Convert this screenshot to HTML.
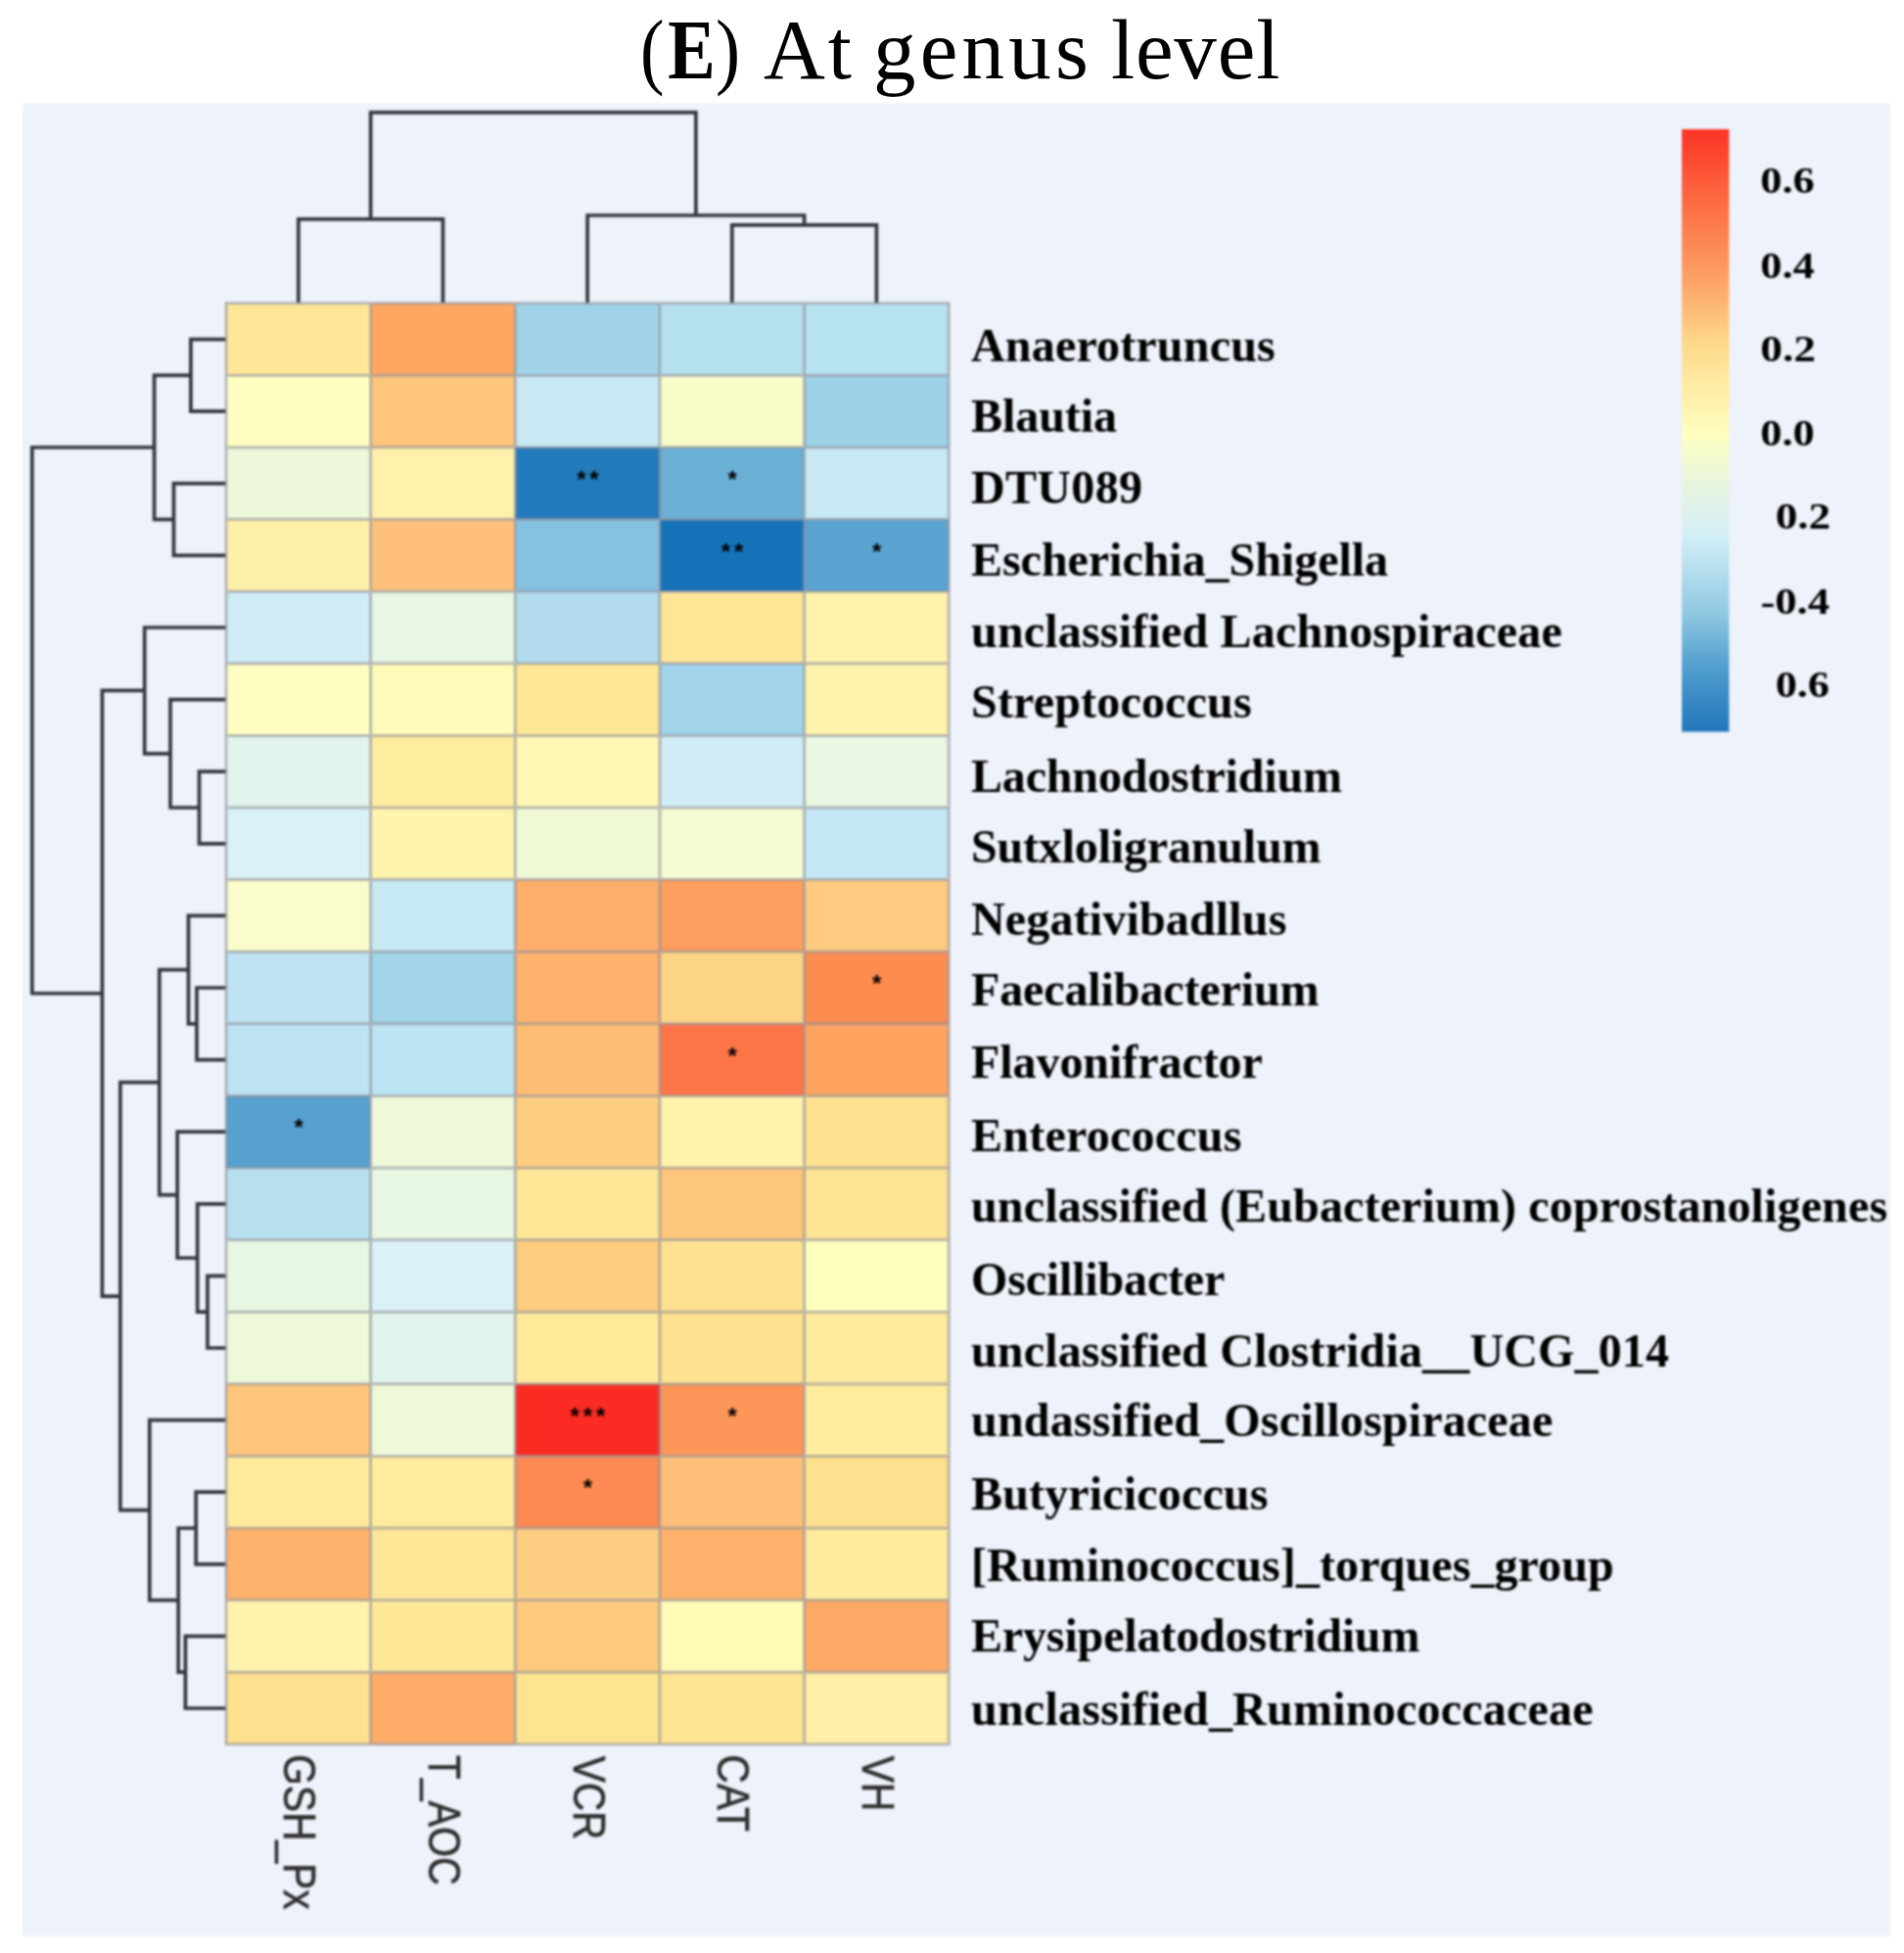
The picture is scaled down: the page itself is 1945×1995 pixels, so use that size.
<!DOCTYPE html>
<html lang="en"><head><meta charset="utf-8"><title>(E) At genus level</title>
<style>html,body{margin:0;padding:0;background:#fff}svg{display:block}.bl{filter:blur(.8px)}.rl{font-family:"Liberation Serif",serif;font-weight:700;font-size:48px;fill:#000}.cl{font-family:"Liberation Sans",sans-serif;font-size:47px;fill:#303030;stroke:#303030;stroke-width:.7px}.lg{font-family:"Liberation Serif",serif;font-weight:700;font-size:37px;fill:#000}.st{font-family:"Liberation Sans",sans-serif;font-weight:700;font-size:24px;fill:#000;text-anchor:middle}.tt{font-family:"Liberation Serif",serif;font-size:87px;fill:#000}</style></head><body>
<svg width="1945" height="1995" viewBox="0 0 1945 1995">
<defs><linearGradient id="cb" x1="0" y1="0" x2="0" y2="1"><stop offset="0" stop-color="#fb3426"/><stop offset="0.12" stop-color="#fe6a42"/><stop offset="0.25" stop-color="#fda265"/><stop offset="0.355" stop-color="#fed98a"/><stop offset="0.505" stop-color="#ffffbf"/><stop offset="0.58" stop-color="#eaf6dc"/><stop offset="0.67" stop-color="#d5eff6"/><stop offset="0.80" stop-color="#92cae3"/><stop offset="0.90" stop-color="#4d9bcd"/><stop offset="1" stop-color="#2277bb"/></linearGradient></defs>
<g class="bl">
<rect x="23" y="105.5" width="1908" height="1872.2" fill="#eef2fa"/>
<path d="M304.825 309.8 V223.9 H452.475 V309.8 M747.775 309.8 V229.8 H895.425 V309.8 M600.125 309.8 V220 H821.6 V229.8 M378.65 223.9 V114.8 H710.862 V220 M231 346.6 H194.9 V420.2 H231 M231 493.8 H177.5 V567.4 H231 M194.9 383.4 H157.6 V530.6 H177.5 M231 788.2 H203.5 V861.8 H231 M231 714.6 H174 V825 H203.5 M231 641 H147.7 V769.8 H174 M231 1009 H201 V1082.6 H231 M231 935.4 H192.5 V1045.8 H201 M231 1303.4 H212 V1377 H231 M231 1229.8 H201.7 V1340.2 H212 M231 1156.2 H181.2 V1285 H201.7 M192.5 990.6 H162.8 V1220.6 H181.2 M231 1524.2 H200.2 V1597.8 H231 M231 1671.4 H189.4 V1745 H231 M200.2 1561 H182.2 V1708.2 H189.4 M231 1450.6 H152.8 V1634.6 H182.2 M162.8 1105.6 H122.9 V1542.6 H152.8 M147.7 705.4 H104.4 V1324.1 H122.9 M157.6 457 H32.8 V1014.75 H104.4" fill="none" stroke="#33363b" stroke-width="3.7" stroke-linejoin="miter"/>
<rect x="231.0" y="309.8" width="147.7" height="73.6" fill="#ffe799"/>
<rect x="378.6" y="309.8" width="147.7" height="73.6" fill="#fea762"/>
<rect x="526.3" y="309.8" width="147.7" height="73.6" fill="#a1d3e8"/>
<rect x="674.0" y="309.8" width="147.7" height="73.6" fill="#b5e0ee"/>
<rect x="821.6" y="309.8" width="147.7" height="73.6" fill="#b7e2f0"/>
<rect x="231.0" y="383.4" width="147.7" height="73.6" fill="#ffffc3"/>
<rect x="378.6" y="383.4" width="147.7" height="73.6" fill="#fec57b"/>
<rect x="526.3" y="383.4" width="147.7" height="73.6" fill="#c9e9f4"/>
<rect x="674.0" y="383.4" width="147.7" height="73.6" fill="#f9fcc8"/>
<rect x="821.6" y="383.4" width="147.7" height="73.6" fill="#9cd1e8"/>
<rect x="231.0" y="457.0" width="147.7" height="73.6" fill="#ecf8d9"/>
<rect x="378.6" y="457.0" width="147.7" height="73.6" fill="#fff1ab"/>
<rect x="526.3" y="457.0" width="147.7" height="73.6" fill="#237aba"/>
<rect x="674.0" y="457.0" width="147.7" height="73.6" fill="#6ab0d5"/>
<rect x="821.6" y="457.0" width="147.7" height="73.6" fill="#c9e9f4"/>
<rect x="231.0" y="530.6" width="147.7" height="73.6" fill="#fff0a9"/>
<rect x="378.6" y="530.6" width="147.7" height="73.6" fill="#fec07a"/>
<rect x="526.3" y="530.6" width="147.7" height="73.6" fill="#84c2e0"/>
<rect x="674.0" y="530.6" width="147.7" height="73.6" fill="#1572b8"/>
<rect x="821.6" y="530.6" width="147.7" height="73.6" fill="#5ba3d0"/>
<rect x="231.0" y="604.2" width="147.7" height="73.6" fill="#d0ecf7"/>
<rect x="378.6" y="604.2" width="147.7" height="73.6" fill="#e8f6e3"/>
<rect x="526.3" y="604.2" width="147.7" height="73.6" fill="#b2dcee"/>
<rect x="674.0" y="604.2" width="147.7" height="73.6" fill="#fee696"/>
<rect x="821.6" y="604.2" width="147.7" height="73.6" fill="#fff3ae"/>
<rect x="231.0" y="677.8" width="147.7" height="73.6" fill="#ffffc3"/>
<rect x="378.6" y="677.8" width="147.7" height="73.6" fill="#fefbb9"/>
<rect x="526.3" y="677.8" width="147.7" height="73.6" fill="#fee897"/>
<rect x="674.0" y="677.8" width="147.7" height="73.6" fill="#a1d4ea"/>
<rect x="821.6" y="677.8" width="147.7" height="73.6" fill="#fff3ad"/>
<rect x="231.0" y="751.4" width="147.7" height="73.6" fill="#e2f5ec"/>
<rect x="378.6" y="751.4" width="147.7" height="73.6" fill="#ffed9f"/>
<rect x="526.3" y="751.4" width="147.7" height="73.6" fill="#fff7b3"/>
<rect x="674.0" y="751.4" width="147.7" height="73.6" fill="#d2edf7"/>
<rect x="821.6" y="751.4" width="147.7" height="73.6" fill="#e9f7e3"/>
<rect x="231.0" y="825.0" width="147.7" height="73.6" fill="#daf2f7"/>
<rect x="378.6" y="825.0" width="147.7" height="73.6" fill="#fff4ae"/>
<rect x="526.3" y="825.0" width="147.7" height="73.6" fill="#f0f9d6"/>
<rect x="674.0" y="825.0" width="147.7" height="73.6" fill="#f4fbd2"/>
<rect x="821.6" y="825.0" width="147.7" height="73.6" fill="#c5e8f4"/>
<rect x="231.0" y="898.6" width="147.7" height="73.6" fill="#fafdcb"/>
<rect x="378.6" y="898.6" width="147.7" height="73.6" fill="#c7e9f3"/>
<rect x="526.3" y="898.6" width="147.7" height="73.6" fill="#feae6a"/>
<rect x="674.0" y="898.6" width="147.7" height="73.6" fill="#fd9e5f"/>
<rect x="821.6" y="898.6" width="147.7" height="73.6" fill="#fecb80"/>
<rect x="231.0" y="972.2" width="147.7" height="73.6" fill="#bfe3f2"/>
<rect x="378.6" y="972.2" width="147.7" height="73.6" fill="#a1d4e8"/>
<rect x="526.3" y="972.2" width="147.7" height="73.6" fill="#feb26c"/>
<rect x="674.0" y="972.2" width="147.7" height="73.6" fill="#fed585"/>
<rect x="821.6" y="972.2" width="147.7" height="73.6" fill="#fd8c50"/>
<rect x="231.0" y="1045.8" width="147.7" height="73.6" fill="#bee3f2"/>
<rect x="378.6" y="1045.8" width="147.7" height="73.6" fill="#bce3f1"/>
<rect x="526.3" y="1045.8" width="147.7" height="73.6" fill="#febc74"/>
<rect x="674.0" y="1045.8" width="147.7" height="73.6" fill="#fd7547"/>
<rect x="821.6" y="1045.8" width="147.7" height="73.6" fill="#fea360"/>
<rect x="231.0" y="1119.4" width="147.7" height="73.6" fill="#57a1cf"/>
<rect x="378.6" y="1119.4" width="147.7" height="73.6" fill="#eef9da"/>
<rect x="526.3" y="1119.4" width="147.7" height="73.6" fill="#fece80"/>
<rect x="674.0" y="1119.4" width="147.7" height="73.6" fill="#fff2ab"/>
<rect x="821.6" y="1119.4" width="147.7" height="73.6" fill="#fee08e"/>
<rect x="231.0" y="1193.0" width="147.7" height="73.6" fill="#b7e0ef"/>
<rect x="378.6" y="1193.0" width="147.7" height="73.6" fill="#e8f7e3"/>
<rect x="526.3" y="1193.0" width="147.7" height="73.6" fill="#fee796"/>
<rect x="674.0" y="1193.0" width="147.7" height="73.6" fill="#fec67b"/>
<rect x="821.6" y="1193.0" width="147.7" height="73.6" fill="#fee494"/>
<rect x="231.0" y="1266.6" width="147.7" height="73.6" fill="#e8f7e3"/>
<rect x="378.6" y="1266.6" width="147.7" height="73.6" fill="#daf2f7"/>
<rect x="526.3" y="1266.6" width="147.7" height="73.6" fill="#fecd7f"/>
<rect x="674.0" y="1266.6" width="147.7" height="73.6" fill="#fee290"/>
<rect x="821.6" y="1266.6" width="147.7" height="73.6" fill="#ffffbd"/>
<rect x="231.0" y="1340.2" width="147.7" height="73.6" fill="#eef9da"/>
<rect x="378.6" y="1340.2" width="147.7" height="73.6" fill="#e2f5ec"/>
<rect x="526.3" y="1340.2" width="147.7" height="73.6" fill="#ffea9a"/>
<rect x="674.0" y="1340.2" width="147.7" height="73.6" fill="#fee28f"/>
<rect x="821.6" y="1340.2" width="147.7" height="73.6" fill="#ffeb9d"/>
<rect x="231.0" y="1413.8" width="147.7" height="73.6" fill="#fec57b"/>
<rect x="378.6" y="1413.8" width="147.7" height="73.6" fill="#eef9da"/>
<rect x="526.3" y="1413.8" width="147.7" height="73.6" fill="#f92b22"/>
<rect x="674.0" y="1413.8" width="147.7" height="73.6" fill="#fd9659"/>
<rect x="821.6" y="1413.8" width="147.7" height="73.6" fill="#ffec9d"/>
<rect x="231.0" y="1487.4" width="147.7" height="73.6" fill="#ffea9b"/>
<rect x="378.6" y="1487.4" width="147.7" height="73.6" fill="#ffec9d"/>
<rect x="526.3" y="1487.4" width="147.7" height="73.6" fill="#fd8a52"/>
<rect x="674.0" y="1487.4" width="147.7" height="73.6" fill="#fec078"/>
<rect x="821.6" y="1487.4" width="147.7" height="73.6" fill="#fee08e"/>
<rect x="231.0" y="1561.0" width="147.7" height="73.6" fill="#feb36c"/>
<rect x="378.6" y="1561.0" width="147.7" height="73.6" fill="#ffe797"/>
<rect x="526.3" y="1561.0" width="147.7" height="73.6" fill="#fecf82"/>
<rect x="674.0" y="1561.0" width="147.7" height="73.6" fill="#feb16b"/>
<rect x="821.6" y="1561.0" width="147.7" height="73.6" fill="#ffeb9c"/>
<rect x="231.0" y="1634.6" width="147.7" height="73.6" fill="#fff2ac"/>
<rect x="378.6" y="1634.6" width="147.7" height="73.6" fill="#ffe897"/>
<rect x="526.3" y="1634.6" width="147.7" height="73.6" fill="#feca7e"/>
<rect x="674.0" y="1634.6" width="147.7" height="73.6" fill="#fffab5"/>
<rect x="821.6" y="1634.6" width="147.7" height="73.6" fill="#fea965"/>
<rect x="231.0" y="1708.2" width="147.7" height="73.6" fill="#fee08e"/>
<rect x="378.6" y="1708.2" width="147.7" height="73.6" fill="#feac68"/>
<rect x="526.3" y="1708.2" width="147.7" height="73.6" fill="#fee48f"/>
<rect x="674.0" y="1708.2" width="147.7" height="73.6" fill="#fee592"/>
<rect x="821.6" y="1708.2" width="147.7" height="73.6" fill="#ffefa6"/>
<path d="M230.0 309.8 H970.2 M230.0 383.4 H970.2 M230.0 457.0 H970.2 M230.0 530.6 H970.2 M230.0 604.2 H970.2 M230.0 677.8 H970.2 M230.0 751.4 H970.2 M230.0 825.0 H970.2 M230.0 898.6 H970.2 M230.0 972.2 H970.2 M230.0 1045.8 H970.2 M230.0 1119.4 H970.2 M230.0 1193.0 H970.2 M230.0 1266.6 H970.2 M230.0 1340.2 H970.2 M230.0 1413.8 H970.2 M230.0 1487.4 H970.2 M230.0 1561.0 H970.2 M230.0 1634.6 H970.2 M230.0 1708.2 H970.2 M230.0 1781.8 H970.2 M231.0 308.8 V1782.8 M378.6 308.8 V1782.8 M526.3 308.8 V1782.8 M674.0 308.8 V1782.8 M821.6 308.8 V1782.8 M969.2 308.8 V1782.8" fill="none" stroke="#8f8f99" stroke-opacity="0.6" stroke-width="3"/>
<text class="st" x="593.8 607.0" y="497.9">**</text>
<text class="st" x="748.1" y="497.9">*</text>
<text class="st" x="741.5 754.7" y="571.5">**</text>
<text class="st" x="895.7" y="571.5">*</text>
<text class="st" x="895.7" y="1013.1">*</text>
<text class="st" x="748.1" y="1086.7">*</text>
<text class="st" x="305.1" y="1160.3">*</text>
<text class="st" x="587.2 600.4 613.6" y="1454.7">***</text>
<text class="st" x="748.1" y="1454.7">*</text>
<text class="st" x="600.4" y="1528.3">*</text>
<text class="rl" x="992.0" y="369.2" textLength="310.7" lengthAdjust="spacing">Anaerotruncus</text>
<text class="rl" x="992.0" y="440.7" textLength="149.0" lengthAdjust="spacing">Blautia</text>
<text class="rl" x="992.0" y="513.8" textLength="175.0" lengthAdjust="spacing">DTU089</text>
<text class="rl" x="992.0" y="588.4" textLength="426.0" lengthAdjust="spacing">Escherichia_Shigella</text>
<text class="rl" x="992.0" y="661.4" textLength="603.8" lengthAdjust="spacing">unclassified Lachnospiraceae</text>
<text class="rl" x="992.0" y="733" textLength="286.7" lengthAdjust="spacing">Streptococcus</text>
<text class="rl" x="992.0" y="808.5" textLength="379.0" lengthAdjust="spacing">Lachnodostridium</text>
<text class="rl" x="992.0" y="880.7" textLength="357.4" lengthAdjust="spacing">Sutxloligranulum</text>
<text class="rl" x="992.0" y="955.4" textLength="322.4" lengthAdjust="spacing">Negativibadllus</text>
<text class="rl" x="992.0" y="1027.3" textLength="355.5" lengthAdjust="spacing">Faecalibacterium</text>
<text class="rl" x="992.0" y="1101" textLength="297.8" lengthAdjust="spacing">Flavonifractor</text>
<text class="rl" x="992.0" y="1175.5" textLength="276.5" lengthAdjust="spacing">Enterococcus</text>
<text class="rl" x="992.0" y="1248" textLength="936.1" lengthAdjust="spacing">unclassified (Eubacterium) coprostanoligenes</text>
<text class="rl" x="992.0" y="1323" textLength="259.3" lengthAdjust="spacing">Oscillibacter</text>
<text class="rl" x="992.0" y="1396" textLength="713.0" lengthAdjust="spacing">unclassified Clostridia__UCG_014</text>
<text class="rl" x="992.0" y="1467.3" textLength="594.3" lengthAdjust="spacing">undassified_Oscillospiraceae</text>
<text class="rl" x="992.0" y="1542.3" textLength="303.4" lengthAdjust="spacing">Butyricicoccus</text>
<text class="rl" x="992.0" y="1614.7" textLength="656.7" lengthAdjust="spacing">[Ruminococcus]_torques_group</text>
<text class="rl" x="992.0" y="1687" textLength="458.4" lengthAdjust="spacing">Erysipelatodostridium</text>
<text class="rl" x="992.0" y="1762" textLength="635.6" lengthAdjust="spacing">unclassified_Ruminococcaceae</text>
<text class="cl" transform="translate(290.3 1792.0) rotate(90)" textLength="158.7" lengthAdjust="spacingAndGlyphs">GSH_Px</text>
<text class="cl" transform="translate(437.9 1792.9) rotate(90)" textLength="132.9" lengthAdjust="spacingAndGlyphs">T_AOC</text>
<text class="cl" transform="translate(585.6 1793.7) rotate(90)" textLength="85.7" lengthAdjust="spacingAndGlyphs">VCR</text>
<text class="cl" transform="translate(733.2 1792.2) rotate(90)" textLength="78.7" lengthAdjust="spacingAndGlyphs">CAT</text>
<text class="cl" transform="translate(880.9 1793.4) rotate(90)" textLength="57.1" lengthAdjust="spacingAndGlyphs">VH</text>
<rect x="1718" y="132" width="48.3" height="615.5" fill="url(#cb)"/>
<text class="lg" x="1798.3" y="197.4" textLength="55.3" lengthAdjust="spacingAndGlyphs">0.6</text>
<text class="lg" x="1798.3" y="284" textLength="55.3" lengthAdjust="spacingAndGlyphs">0.4</text>
<text class="lg" x="1798.3" y="368.8" textLength="56.6" lengthAdjust="spacingAndGlyphs">0.2</text>
<text class="lg" x="1798.3" y="454.6" textLength="55.3" lengthAdjust="spacingAndGlyphs">0.0</text>
<text class="lg" x="1813.8" y="540.4" textLength="56.3" lengthAdjust="spacingAndGlyphs">0.2</text>
<text class="lg" x="1798.5" y="627.2" textLength="70.4" lengthAdjust="spacingAndGlyphs">-0.4</text>
<text class="lg" x="1813.8" y="711.9" textLength="55.1" lengthAdjust="spacingAndGlyphs">0.6</text>
</g>
<text class="tt" y="80"><tspan x="654.1" textLength="24.5" lengthAdjust="spacingAndGlyphs">(</tspan><tspan x="682.3" textLength="48.5" lengthAdjust="spacingAndGlyphs" font-weight="700">E</tspan><tspan x="730.9" textLength="25.1" lengthAdjust="spacingAndGlyphs">)</tspan> <tspan x="779.9" textLength="90.0" lengthAdjust="spacing">At</tspan> <tspan x="892.0" textLength="219.9" lengthAdjust="spacing">genus</tspan> <tspan x="1134.9" textLength="172.4" lengthAdjust="spacing">level</tspan></text>
</svg></body></html>
